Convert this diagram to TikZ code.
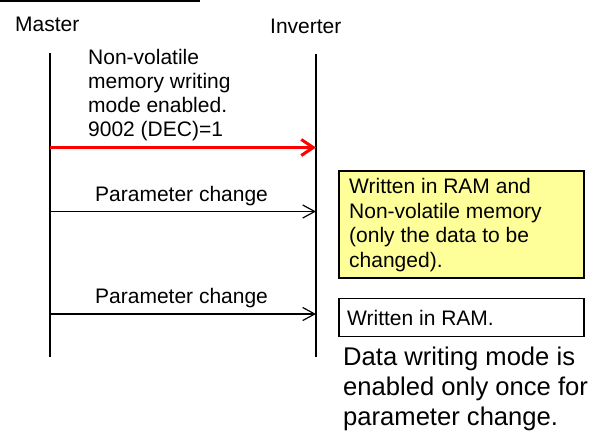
\documentclass[tikz,border=0pt]{standalone}
\usepackage{fontspec}
\setmainfont{Liberation Sans}
\usetikzlibrary{arrows.meta}
\begin{document}
\begin{tikzpicture}[x=1pt,y=-1pt,
  lbl/.style={inner sep=0pt, anchor=base west, font=\fontsize{21}{24}\selectfont, align=left},
  note/.style={inner sep=0pt, anchor=base west, font=\fontsize{25.6}{30}\selectfont, align=left},
  life/.style={line width=1.5pt},
  msg/.style={line width=1.2pt, -{Straight Barb[length=12pt,width=13pt]}},
  redmsg/.style={red, line width=3pt, -{Straight Barb[length=12pt,width=16pt]}},
  box/.style={draw, line width=1.8pt, inner sep=0pt, anchor=north west}
]
\useasboundingbox (0,0) rectangle (611,432);
\draw[line width=1.5pt] (0,0.75) -- (200,0.75);
% labels
\node[lbl] (ml) at (15,31) {Master};
\node[lbl] (il) at (270,33) {Inverter};
% lifelines
\coordinate (mt) at (50,53);
\coordinate (mb) at (50,357);
\coordinate (it) at (316,54);
\coordinate (ib) at (316,357);
\draw[life] (mt) -- (mb);
\draw[life] (it) -- (ib);
% message points
\coordinate (m1) at (50,147.5);
\coordinate (i1) at (316,147.5);
\coordinate (m2) at (50,211.5);
\coordinate (i2) at (316,211.5);
\coordinate (m3) at (50,314);
\coordinate (i3) at (316,314);
\draw[redmsg] (m1) -- (i1);
\draw[msg] (m2) -- (i2);
\draw[msg] (m3) -- (i3);
% message texts
\node[lbl] (t1) at (88,136) {Non-volatile\\memory writing\\mode enabled.\\9002 (DEC)=1};
\node[lbl] (t2) at (95,201) {Parameter change};
\node[lbl] (t3) at (95,303) {Parameter change};
% boxes
\node[box, fill={rgb,255:red,255;green,255;blue,153}, minimum width=245pt, minimum height=107pt] (yb) at (338,170) {};
\node[lbl, font=\fontsize{21}{24.5}\selectfont] (yt) at (349,267) {Written in RAM and\\Non-volatile memory\\(only the data to be\\changed).};
\node[box, minimum width=245pt, minimum height=38pt] (wb) at (338,297.5) {};
\node[lbl] (wt) at (347,325) {Written in RAM.};
% note
\node[note] (nt) at (343,425) {Data writing mode is\\enabled only once for\\parameter change.};
\end{tikzpicture}
\end{document}
